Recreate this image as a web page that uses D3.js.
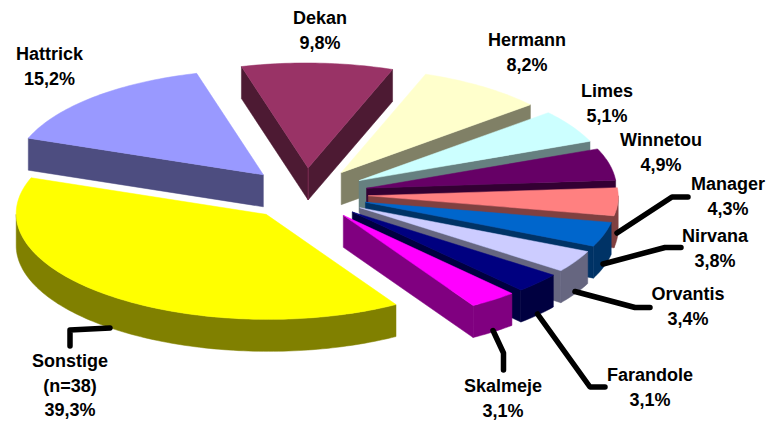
<!DOCTYPE html>
<html><head><meta charset="utf-8">
<script src="https://cdn.jsdelivr.net/npm/d3@7/dist/d3.min.js"></script>
<style>html,body{margin:0;padding:0;background:#fff}svg{display:block}</style>
</head><body><svg id="c" width="769" height="421"></svg>
<script>
const categories=["Sonstige","Hattrick","Dekan","Hermann","Limes","Winnetou","Manager","Nirvana","Orvantis","Farandole","Skalmeje"];
const values=[39.3,15.2,9.8,8.2,5.1,4.9,4.3,3.8,3.4,3.1,3.1];
const valueLabels=["39,3%","15,2%","9,8%","8,2%","5,1%","4,9%","4,3%","3,8%","3,4%","3,1%","3,1%"];
const colors=["#FFFF00","#9999FF","#993366","#FFFFCC","#CCFFFF","#660066","#FF8080","#0066CC","#CCCCFF","#000080","#FF00FF"];
const labelLines=[["Sonstige","(n=38)"],["Hattrick"],["Dekan"],["Hermann"],["Limes"],["Winnetou"],["Manager"],["Nirvana"],["Orvantis"],["Farandole"],["Skalmeje"]];
const labelCenters=[[70,361],[49.5,54],[320,18],[527,40],[607,91],[661,140],[728,184],[715,236],[688,294],[650,375],[503,386]];
const leaders=[[[110,328],[70,330],[70,346]],null,null,null,null,null,[[617,233],[672,197],[688,197]],[[603,264],[665,247.5],[681,247.5]],[[575,291.5],[635,307.5],[650,307.5]],[[537.5,314],[590,387],[605,387]],[[493,330.5],[503.5,353],[503.5,370]]];
const startDeg=149.2, explode=0.25, depth=32, shear=0.02;
const cx=305.8, cy=194.2, rx=250, ry=105;
const x=d3.scaleLinear().domain([-1,1]).range([cx-rx,cx+rx]);
const y=d3.scaleLinear().domain([-1,1]).range([cy-ry,cy+ry]);
const rad=startDeg*Math.PI/180;
const arcs=d3.pie().sort(null).value(d=>d).startAngle(rad).endAngle(rad+2*Math.PI)(values);
const svg=d3.select("#c");
const line=d3.line().x(d=>x(d[0])+shear*(y(d[1])-cy)).y(d=>y(d[1])+(d[2]||0));
function pt(a,r,o){return [o[0]+r*Math.sin(a),o[1]-r*Math.cos(a)];}
function sample(a0,a1,o){const n=Math.max(2,Math.ceil((a1-a0)/0.02));return d3.range(n+1).map(i=>pt(a0+(a1-a0)*i/n,1,o));}
const mid=i=>(arcs[i].startAngle+arcs[i].endAngle)/2;
const order=arcs.map((d,i)=>i).sort((p,q)=>Math.cos(mid(q))-Math.cos(mid(p)));
order.forEach(i=>{
  const d=arcs[i],m=mid(i),o=[explode*Math.sin(m),-explode*Math.cos(m)];
  const base=d3.color(colors[i]);
  const wall=d3.rgb(base.r/2,base.g/2,base.b/2).formatHex();
  const g=svg.append("g");
  const wallPoly=pts=>{const a=pts.map(p=>[p[0],p[1],0]),b=pts.slice().reverse().map(p=>[p[0],p[1],depth]);return line(a.concat(b))+"Z";};
  const drawWall=pts=>g.append("path").attr("d",wallPoly(pts)).attr("fill",wall).attr("stroke",wall).attr("stroke-width",0.5);
  const corners=[];
  if(Math.sin(d.startAngle)<0){drawWall([o,pt(d.startAngle,1,o)]);corners.push(o);}
  if(Math.sin(d.endAngle)>0){drawWall([o,pt(d.endAngle,1,o)]);corners.push(o);}
  // outer wall: only the part of the rim that faces the viewer
  const lo=Math.max(d.startAngle,Math.PI/2),hi=Math.min(d.endAngle,1.5*Math.PI);
  if(hi>lo){drawWall(sample(lo,hi,o)); if(Math.sin(d.endAngle)>0&&hi===d.endAngle)corners.push(pt(d.endAngle,1,o));}
  const lo2=Math.max(d.startAngle,2.5*Math.PI),hi2=Math.min(d.endAngle,3.5*Math.PI);
  if(hi2>lo2)drawWall(sample(lo2,hi2,o));
  // faint highlight on the wall corners
  corners.filter(c=>c!==o||(Math.sin(d.startAngle)<0&&Math.sin(d.endAngle)>0)).forEach(c=>{
    g.append("path").attr("d",line([[c[0],c[1],0],[c[0],c[1],depth]]))
     .attr("fill","none").attr("stroke",colors[i]).attr("stroke-opacity",0.45).attr("stroke-width",0.8);
  });
  const top=[o].concat(sample(d.startAngle,d.endAngle,o));
  g.append("path").attr("d",line(top)+"Z").attr("fill",colors[i]).attr("stroke",colors[i]).attr("stroke-width",0.5);
});
const pl=d3.line();
leaders.forEach(l=>{if(l)svg.append("path").attr("d",pl(l)).attr("fill","none").attr("stroke","#000").attr("stroke-width",5.5).attr("stroke-linejoin","round").attr("stroke-linecap","round");});
categories.forEach((c,i)=>{
  const lines=labelLines[i].concat([valueLabels[i]]);
  lines.forEach((t,k)=>{
    svg.append("text").attr("x",labelCenters[i][0]).attr("y",labelCenters[i][1]+k*24.5+6)
      .attr("text-anchor","middle").attr("font-family","'Liberation Sans',Arial,sans-serif")
      .attr("font-weight","bold").attr("font-size",18).attr("fill","#000").text(t);
  });
});
</script></body></html>
